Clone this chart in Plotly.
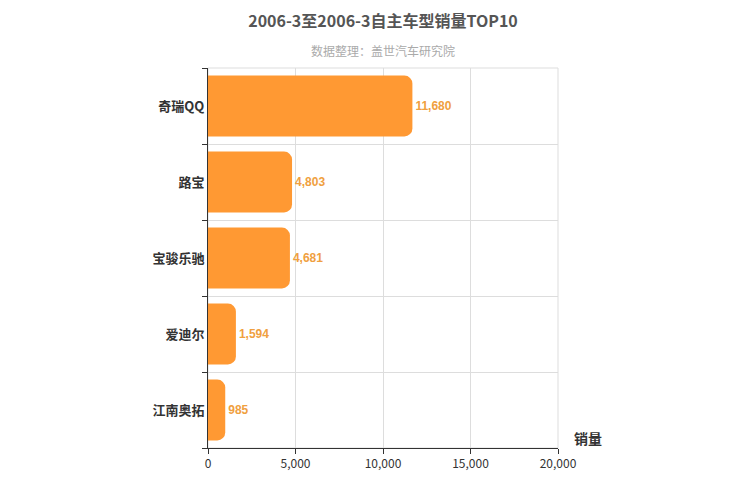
import plotly.graph_objects as go

categories = ["奇瑞QQ", "路宝", "宝骏乐驰", "爱迪尔", "江南奥拓"]
sales = [11680, 4803, 4681, 1594, 985]
labels = [f"<b>{v:,}</b>" for v in sales]
ticktext = [f"<b>{c}</b>" for c in categories]

fig = go.Figure(go.Bar(
    x=sales, y=categories, orientation="h",
    marker=dict(color="#FF9933", line=dict(width=0)),
    text=labels, textposition="outside",
    textfont=dict(color="#F0A040", size=12, family="Arial"),
    width=0.8, cliponaxis=False,
))
fig.update_layout(
    width=750, height=500,
    plot_bgcolor="white", paper_bgcolor="white",
    margin=dict(l=200, r=200, t=60, b=60),
    barcornerradius=8,
    showlegend=False,
    font=dict(family="Noto Sans CJK SC, Arial", color="#333"),
    title=dict(text="<b>2006-3至2006-3自主车型销量TOP10</b>", x=0.5, xanchor="center",
               y=0.985, yanchor="top", font=dict(size=16, color="#555")),
    annotations=[
        dict(text="数据整理：盖世汽车研究院", x=0.5, xref="paper", y=1.075, yref="paper",
             showarrow=False, font=dict(size=12, color="#AAA"), xanchor="center"),
        dict(text="<b>销量</b>", x=1.04, xref="paper", y=-0.005, yref="paper",
             showarrow=False, font=dict(size=14, color="#333"), xanchor="left", yanchor="bottom"),
    ],
)
fig.update_xaxes(range=[0, 20000], tickvals=[0, 5000, 10000, 15000, 20000],
                 tickformat=",", showgrid=True, gridcolor="#DDD", showline=True,
                 linecolor="#333", ticks="outside", ticklen=5, tickcolor="#333",
                 zeroline=False, automargin=False, tickfont=dict(size=12, color="#333"))
fig.update_yaxes(autorange="reversed", tickson="boundaries", showgrid=True, gridcolor="#DDD",
                 showline=True, linecolor="#333", ticks="outside", ticklen=5, tickcolor="#333",
                 automargin=False, tickvals=categories, ticktext=ticktext,
                 tickfont=dict(size=13, color="#333"))
fig.add_shape(type="rect", xref="paper", yref="paper", x0=0, x1=1, y0=0, y1=1,
              line=dict(color="#DDD", width=1), layer="below")
fig.write_html("out.html")
